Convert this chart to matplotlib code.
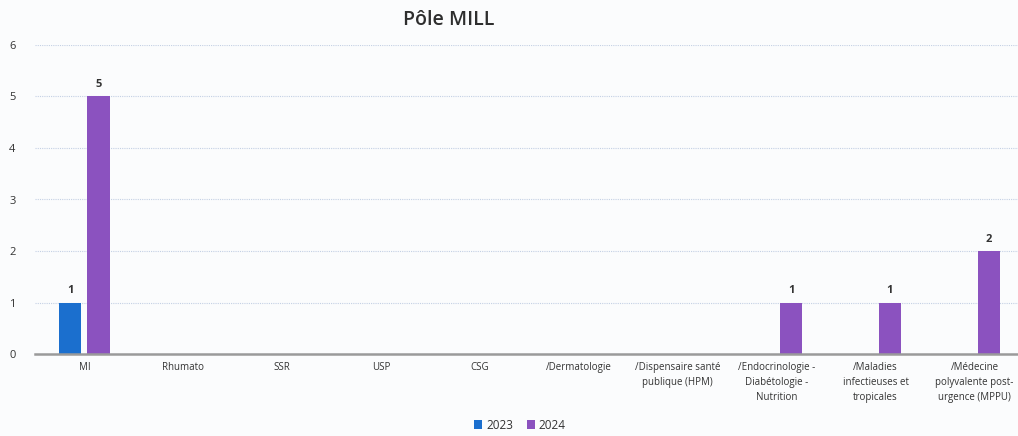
import matplotlib
matplotlib.use("Agg")
import matplotlib.pyplot as plt
import numpy as np

categories = [
    "MI", "Rhumato", "SSR", "USP", "CSG", "/Dermatologie",
    "/Dispensaire santé\npublique (HPM)",
    "/Endocrinologie -\nDiabétologie -\nNutrition",
    "/Maladies\ninfectieuses et\ntropicales",
    "/Médecine\npolyvalente post-\nurgence (MPPU)",
]
values_2023 = [1, 0, 0, 0, 0, 0, 0, 0, 0, 0]
values_2024 = [5, 0, 0, 0, 0, 0, 0, 1, 1, 2]
series_labels = ["2023", "2024"]
y_ticks = [0, 1, 2, 3, 4, 5, 6]

color_2023 = "#1b6fce"
color_2024 = "#8b52bf"
text_color = "#333333"
bg = "#fbfcfd"

plt.rcParams["font.family"] = ["Open Sans", "DejaVu Sans"]

fig = plt.figure(figsize=(10.18, 4.36), dpi=100, facecolor=bg)
ax = fig.add_axes([35 / 1018, 1 - 354 / 436, 989 / 1018, 309 / 436])
ax.set_facecolor(bg)

x = np.arange(len(categories))
width = 0.23
offset = 0.145

b1 = ax.bar(x - offset, values_2023, width, color=color_2023, label=series_labels[0], zorder=3)
b2 = ax.bar(x + offset, values_2024, width, color=color_2024, label=series_labels[1], zorder=3)

for bars, vals in ((b1, values_2023), (b2, values_2024)):
    for rect, v in zip(bars, vals):
        if v > 0:
            ax.text(rect.get_x() + rect.get_width() / 2, v + 0.12, f"{v}",
                    ha="center", va="bottom", fontsize=8, fontweight="bold",
                    color=text_color)

ax.set_xlim(-0.5, len(categories) - 0.5)
ax.set_ylim(0, 6)
ax.set_yticks(y_ticks)
ax.set_yticklabels([str(t) for t in y_ticks], fontsize=8, color=text_color)
ax.tick_params(axis="y", length=0, pad=14)
ax.set_xticks(x)
ax.set_xticklabels(categories, fontsize=7, color=text_color, linespacing=1.5)
ax.tick_params(axis="x", length=0, pad=6)
for lbl in ax.get_xticklabels():
    lbl.set_verticalalignment("top")

ax.grid(axis="y", color="#c4d0e4", linewidth=0.8, linestyle=(0, (1, 1)), zorder=0)
for s in ("top", "right", "left"):
    ax.spines[s].set_visible(False)
ax.spines["bottom"].set_color("#9a9a9a")
ax.spines["bottom"].set_linewidth(1.8)
ax.spines["bottom"].set_zorder(4)

fig.text(449 / 1018, 1 - 20 / 436, "Pôle MILL", ha="center", va="center",
         fontsize=14, fontweight="semibold", color="#2e2e2e")

fig.legend(handles=[b1, b2], labels=series_labels, loc="center",
           bbox_to_anchor=(520 / 1018, 1 - 425 / 436), ncol=2, frameon=False,
           fontsize=8.5, handlelength=0.7, handleheight=0.7, handletextpad=0.3,
           columnspacing=1.2, labelcolor=text_color)

fig.savefig("out.png", dpi=100, facecolor=bg)
